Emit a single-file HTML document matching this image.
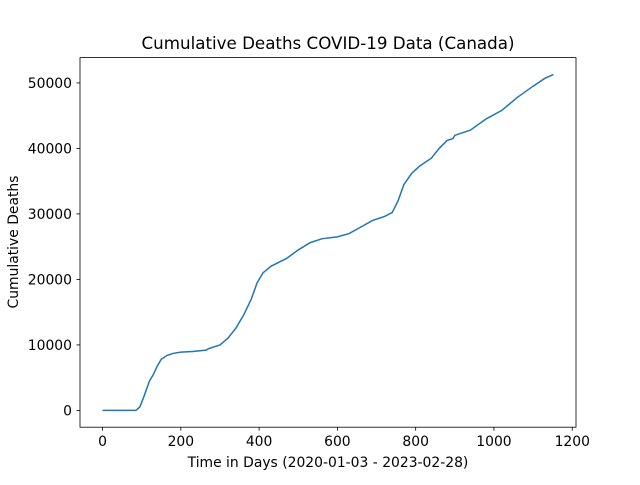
<!DOCTYPE html>
<html><head><meta charset="utf-8"><style>
body{margin:0;background:#fff;}
svg text{font-family:"DejaVu Sans","Liberation Sans",sans-serif;fill:#000;}
</style></head><body>
<svg id="chart" width="640" height="480">
<rect width="640" height="480" fill="#fff"/>
<text x="328" y="49" font-size="16.7" text-anchor="middle">Cumulative Deaths COVID-19 Data (Canada)</text>
<g id="axes"></g>
<polyline id="line" fill="none" stroke="#1f77b4" stroke-width="1.5"/>
<rect x="80" y="57.6" width="496" height="369.6" fill="none" stroke="#000" stroke-width="0.8"/>
<text x="328" y="467" font-size="13.9" text-anchor="middle">Time in Days (2020-01-03 - 2023-02-28)</text>
<text x="0" y="0" font-size="13.9" text-anchor="middle" transform="translate(18,242) rotate(-90)">Cumulative Deaths</text>
</svg>
<script>
const days=[0,85,95,105,120,130,140,150,165,180,200,230,265,270,300,320,340,360,380,395,410,430,470,500,530,560,600,630,660,690,720,740,755,770,790,810,840,860,880,895,900,940,980,1020,1060,1100,1130,1152];
const deaths=[0,0,500,2000,4500,5500,6800,7800,8400,8700,8900,9000,9200,9400,10000,11000,12500,14500,17000,19500,21000,22000,23200,24500,25600,26200,26500,27000,28000,29000,29600,30200,32000,34500,36200,37300,38500,40000,41200,41500,42000,42800,44500,45800,47800,49500,50700,51300];
const xTicks=[0,200,400,600,800,1000,1200];
const yTicks=[0,10000,20000,30000,40000,50000];
const L=80,R=576,T=57.6,B=427.2;
const xmin=-57.6,xmax=1209.6,ymin=-2565,ymax=53865;
const sx=v=>L+(v-xmin)/(xmax-xmin)*(R-L);
const sy=v=>B-(v-ymin)/(ymax-ymin)*(B-T);
const ns="http://www.w3.org/2000/svg";
const g=document.getElementById('axes');
xTicks.forEach(t=>{
 const l=document.createElementNS(ns,'line');
 
 
 l.setAttribute('x1',sx(t));l.setAttribute('x2',sx(t));l.setAttribute('y1',B);l.setAttribute('y2',B+3.5);l.setAttribute('stroke','#000');l.setAttribute('stroke-width','0.8');g.appendChild(l);
 const tx=document.createElementNS(ns,'text');
 
 
 tx.setAttribute('x',sx(t));tx.setAttribute('y',B+19);tx.setAttribute('font-size','13.9');tx.setAttribute('text-anchor','middle');tx.textContent=t;g.appendChild(tx);
});
yTicks.forEach(t=>{
 const l=document.createElementNS(ns,'line');
 
 
 l.setAttribute('x1',L-3.5);l.setAttribute('x2',L);l.setAttribute('y1',sy(t));l.setAttribute('y2',sy(t));l.setAttribute('stroke','#000');l.setAttribute('stroke-width','0.8');g.appendChild(l);
 const tx=document.createElementNS(ns,'text');
 
 
 tx.setAttribute('x',L-8);tx.setAttribute('y',sy(t)+5);tx.setAttribute('font-size','13.9');tx.setAttribute('text-anchor','end');tx.textContent=t;g.appendChild(tx);
});
document.getElementById('line').setAttribute('points',days.map((d,i)=>sx(d)+','+sy(deaths[i])).join(' '));
</script>
</body></html>
